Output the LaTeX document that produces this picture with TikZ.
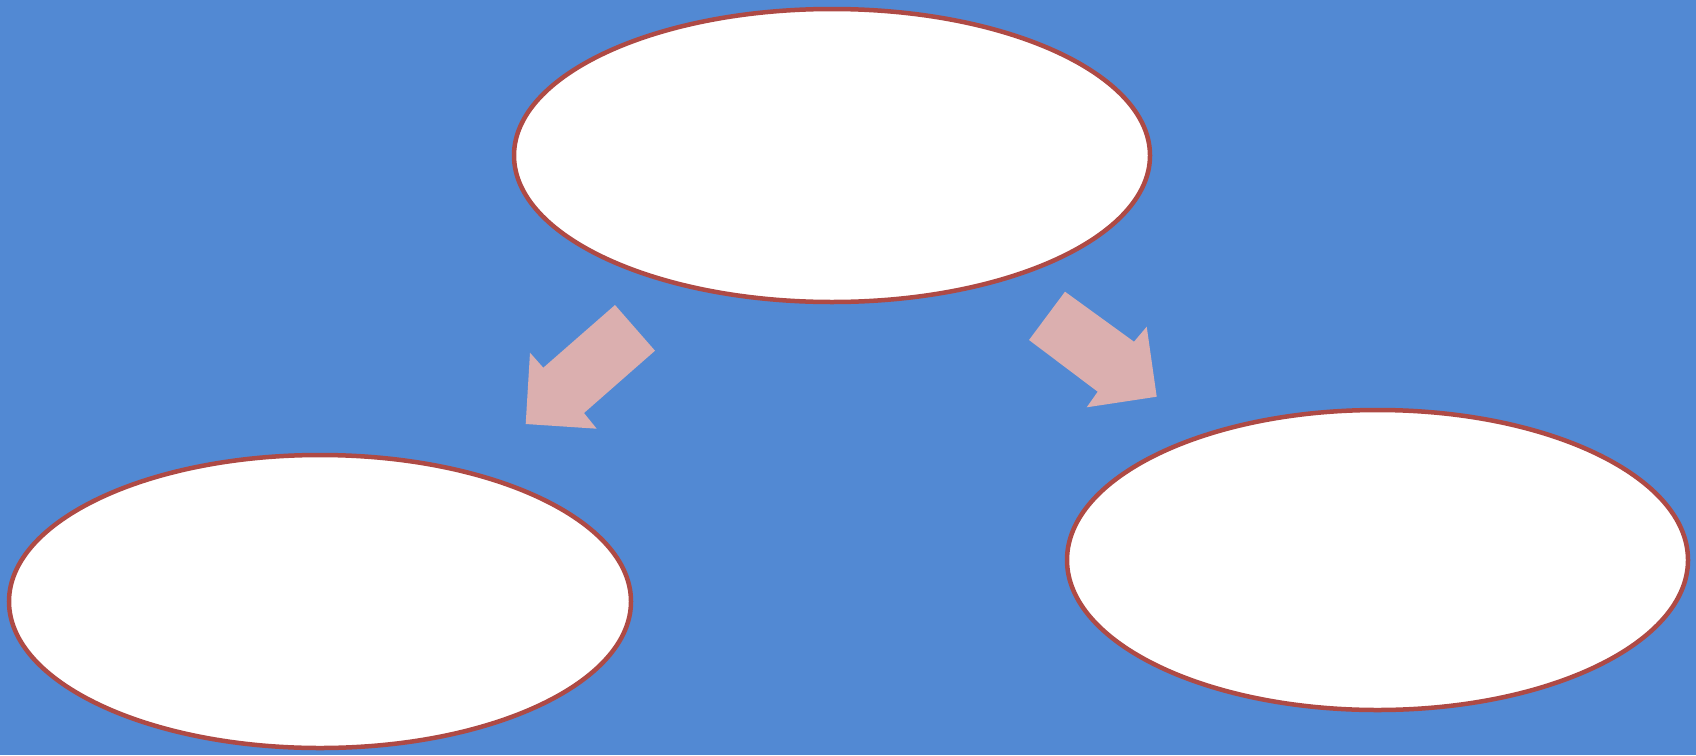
\documentclass[tikz,border=0pt]{standalone}
\usetikzlibrary{shapes.geometric}
\definecolor{bg}{RGB}{82,137,211}
\definecolor{rim}{RGB}{174,74,69}
\definecolor{arrowfill}{RGB}{219,175,175}
\tikzset{
  bubble/.style={ellipse, draw=rim, line width=4.5pt, fill=white, inner sep=0pt},
  blockarrow/.style={fill=arrowfill, draw=none}
}
\begin{document}
\begin{tikzpicture}[x=1pt, y=-1pt]
\fill[bg] (0,0) rectangle (1696,755);
\useasboundingbox (0,0) rectangle (1696,755);
\node[bubble, minimum width=636pt, minimum height=293pt] (top) at (832,155.5) {};
\node[bubble, minimum width=622pt, minimum height=293pt] (left) at (320,601.5) {};
\node[bubble, minimum width=621pt, minimum height=300pt] (right) at (1377.5,560) {};
\fill[blockarrow] (615,305) -- (655,350.7) -- (584,413) -- (596.7,428.7) -- (525.7,424) -- (530,352.7) -- (543.3,367.7) -- cycle;
\fill[blockarrow] (1065,291.7) -- (1134,341.7) -- (1146.7,326.7) -- (1156.7,396.7) -- (1086.7,407.3) -- (1097.7,391.7) -- (1029,340) -- cycle;
\end{tikzpicture}
\end{document}
